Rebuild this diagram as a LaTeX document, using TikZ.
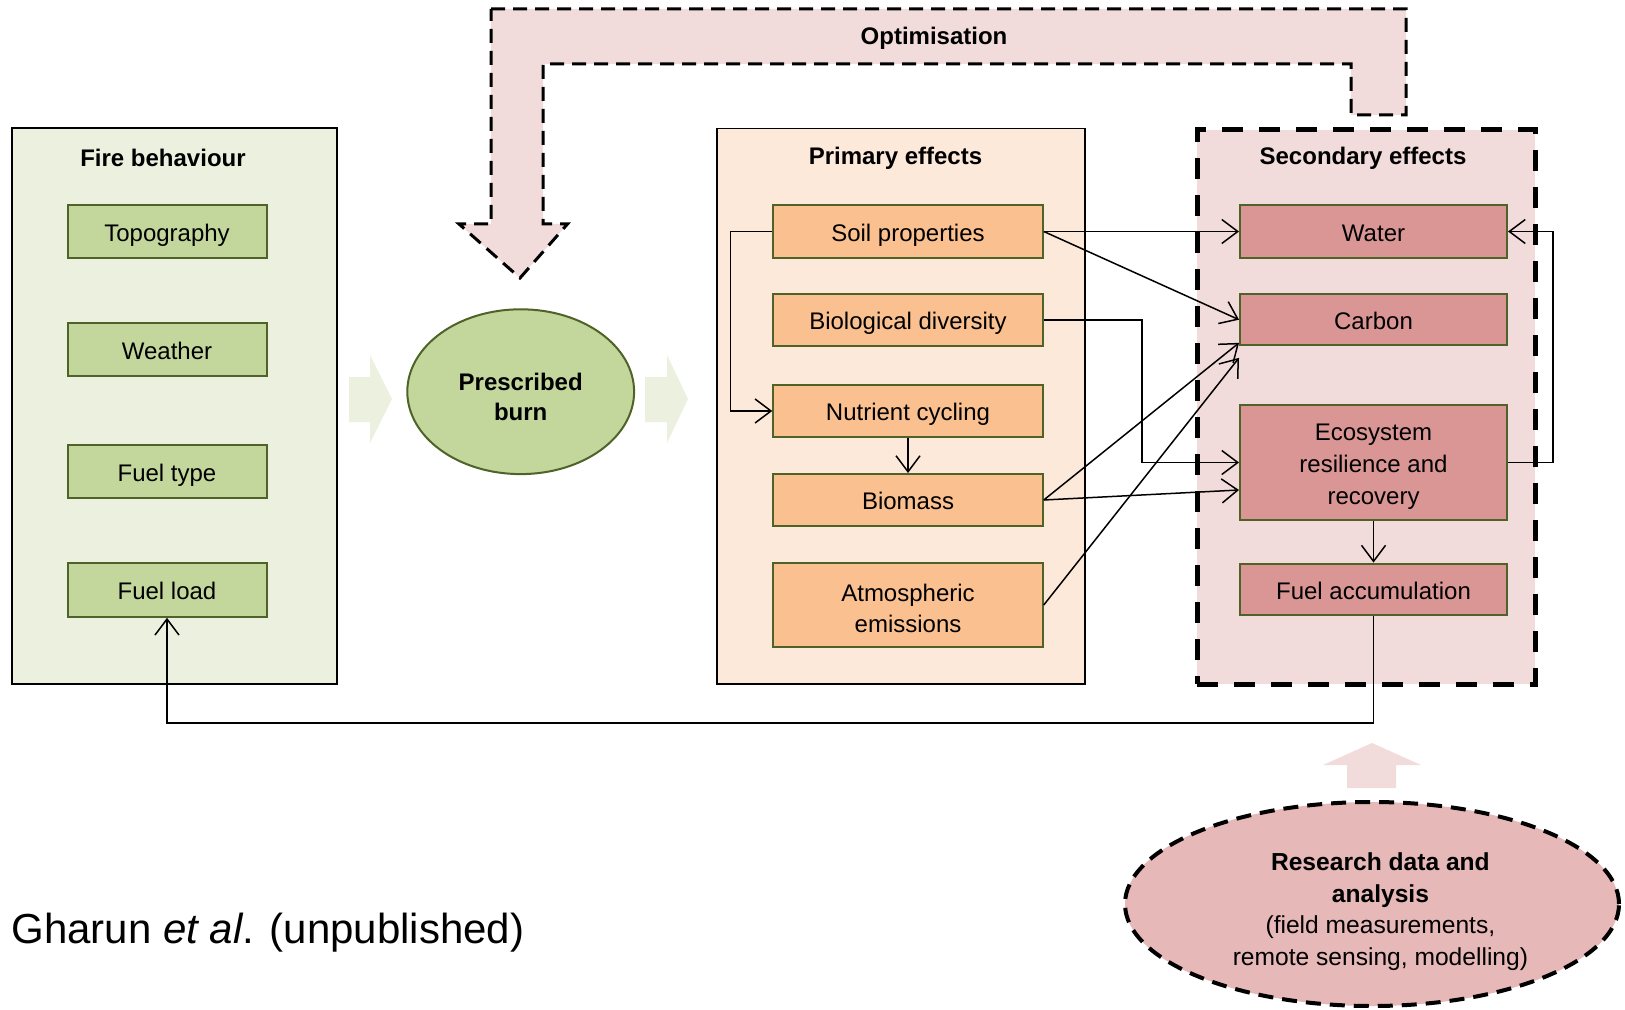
\documentclass[tikz,border=0pt]{standalone}
\usepackage{fontspec}
\setmainfont{Liberation Sans}
\usetikzlibrary{arrows.meta,shapes.geometric,calc}
\definecolor{firebg}{HTML}{EBF1DE}
\definecolor{greenbox}{HTML}{C3D69B}
\definecolor{olive}{HTML}{4F6228}
\definecolor{primbg}{HTML}{FDE9D9}
\definecolor{orangebox}{HTML}{FAC090}
\definecolor{secbg}{HTML}{F2DCDB}
\definecolor{redbox}{HTML}{D99694}
\definecolor{resfill}{HTML}{E6B8B7}
\newcommand{\mystrut}[1]{\rule{0pt}{#1}}
\newcommand{\myshift}{\hspace*{8.4pt}}
\begin{document}
\begin{tikzpicture}[x=0.5pt,y=-0.5pt,
  panel/.style={draw=black, line width=0.75pt, inner sep=0pt},
  ttl/.style={inner sep=0pt, font=\bfseries\fontsize{12}{15}\selectfont},
  ibox/.style={line width=1pt, draw=olive, inner sep=0pt, align=center, font=\fontsize{12}{15.5}\selectfont},
  sline/.style={text height=10pt, text depth=0.3pt},
  gbox/.style={ibox, fill=greenbox, minimum width=99.5pt, minimum height=26.75pt},
  obox/.style={ibox, fill=orangebox, minimum width=134.75pt, minimum height=26pt},
  rbox/.style={ibox, fill=redbox, minimum width=133.5pt, minimum height=26pt},
  conn/.style={draw=black, line width=0.75pt, -{Straight Barb[length=8pt,width=12pt]}},
  chev/.style={fill=firebg, draw=none}
]
\useasboundingbox (0,0) rectangle (1625,1010);

% panels
\node[panel, fill=firebg, minimum width=162.5pt, minimum height=278pt] (firepanel) at (174.5,406) {};
\node[panel, fill=primbg, minimum width=184pt, minimum height=277.75pt] (primpanel) at (901,406.25) {};
\node[draw=black, fill=secbg, line width=2.5pt, dash pattern=on 10.5pt off 8pt, inner sep=0pt, minimum width=169pt, minimum height=277pt] (secpanel) at (1366,407) {};

\node[ttl] (firettl) at (163,158) {Fire behaviour};
\node[ttl] (primttl) at (895.5,158) {Primary effects};
\node[ttl] (secttl) at (1363,158) {Secondary effects};

% optimisation arrow
\draw[fill=secbg, draw=black, line width=1.5pt, dash pattern=on 7pt off 4pt]
  (491,9) -- (1406,9) -- (1406,115) -- (1351,115) -- (1351,64) -- (543,64) -- (543,224)
  -- (567.5,224) -- (520,278) -- (459,224) -- (491,224) -- cycle;
\node[ttl] (opt) at (934,38) {Optimisation};

% chevrons
\fill[chev] (349,377) -- (370,377) -- (370,355) -- (392,399) -- (370,443) -- (370,422) -- (349,422) -- cycle;
\fill[chev] (645,377) -- (667,377) -- (667,355) -- (688,399) -- (667,443) -- (667,422) -- (645,422) -- cycle;

% fire behaviour boxes
\node[gbox, sline] (topo) at (167,231.5) {Topography};
\node[gbox, sline] (weather) at (167,349.5) {Weather};
\node[gbox, sline] (ftype) at (167,471.3) {Fuel type};
\node[gbox, sline] (fload) at (167,590) {Fuel load};

% prescribed burn
\node[ellipse, draw=olive, fill=greenbox, line width=1pt, minimum width=113.4pt, minimum height=82.4pt, inner sep=0pt, align=center, font=\bfseries\fontsize{12}{14.8}\selectfont] (burn) at (520.7,391.7) {\mystrut{13.8pt}Prescribed\\burn};

% primary effects
\node[obox, sline, minimum height=26.8pt] (soil) at (908,231.5) {Soil properties};
\node[obox, sline] (biodiv) at (908,320) {Biological diversity};
\node[obox, sline] (nutr) at (908,411) {Nutrient cycling};
\node[obox, sline] (biomass) at (908,500) {Biomass};
\node[obox, minimum height=41.7pt, font=\fontsize{12}{15.5}\selectfont] (atmos) at (908,605) {\mystrut{12.4pt}Atmospheric\\emissions};

% secondary effects
\node[rbox, sline, minimum height=26.8pt] (water) at (1373.5,231.5) {Water};
\node[rbox, sline, minimum height=25.65pt] (carbon) at (1373.5,319.7) {Carbon};
\node[rbox, minimum height=57.5pt, font=\fontsize{12}{15.8}\selectfont] (eco) at (1373.5,462.5) {\mystrut{12.4pt}Ecosystem\\resilience and\\recovery};
\node[rbox, sline, minimum height=25.75pt] (facc) at (1373.5,589.3) {Fuel accumulation};

% connectors
\draw[conn] (soil.west) -- ++(-42,0) |- (nutr.west);
\draw[conn] (nutr.south) -- (biomass.north);
\draw[conn] (soil.east) -- (water.west);
\draw[conn] (soil.east) -- (carbon.west);
\draw[conn] (biodiv.east) -- ++(98,0) |- (eco.west);
\draw[conn] (biomass.east) -- ($(carbon.south west)+(0,-3.5)$);
\draw[conn] (biomass.east) -- ($(eco.west)+(0,27.5)$);
\draw[conn] (atmos.east) -- ($(carbon.south west)+(0,11.5)$);
\draw[conn] (eco.east) -- ++(45,0) |- (water.east);
\draw[conn] (eco.south) -- (facc.north);
\draw[conn] (facc.south) -- ++(0,107) -| (fload.south);

% research
\fill[secbg] (1347,788) -- (1347,765) -- (1323,765) -- (1372,743) -- (1421,765) -- (1396,765) -- (1396,788) -- cycle;
\node[ellipse, draw=black, fill=resfill, line width=2pt, dash pattern=on 7.5pt off 4.5pt, minimum width=247pt, minimum height=102pt, inner sep=0pt, align=center, font=\fontsize{12.3}{15.8}\selectfont] (research) at (1372,904) {\mystrut{16.5pt}\myshift\textbf{Research data and}\\\myshift\textbf{analysis}\\\myshift(field measurements,\\\myshift remote sensing, modelling)};

% citation
\node[anchor=base west, inner sep=0pt, font=\fontsize{21}{25}\selectfont] (cite) at (11,943) {Gharun \textit{et al}. (unpublished)};
\end{tikzpicture}
\end{document}
